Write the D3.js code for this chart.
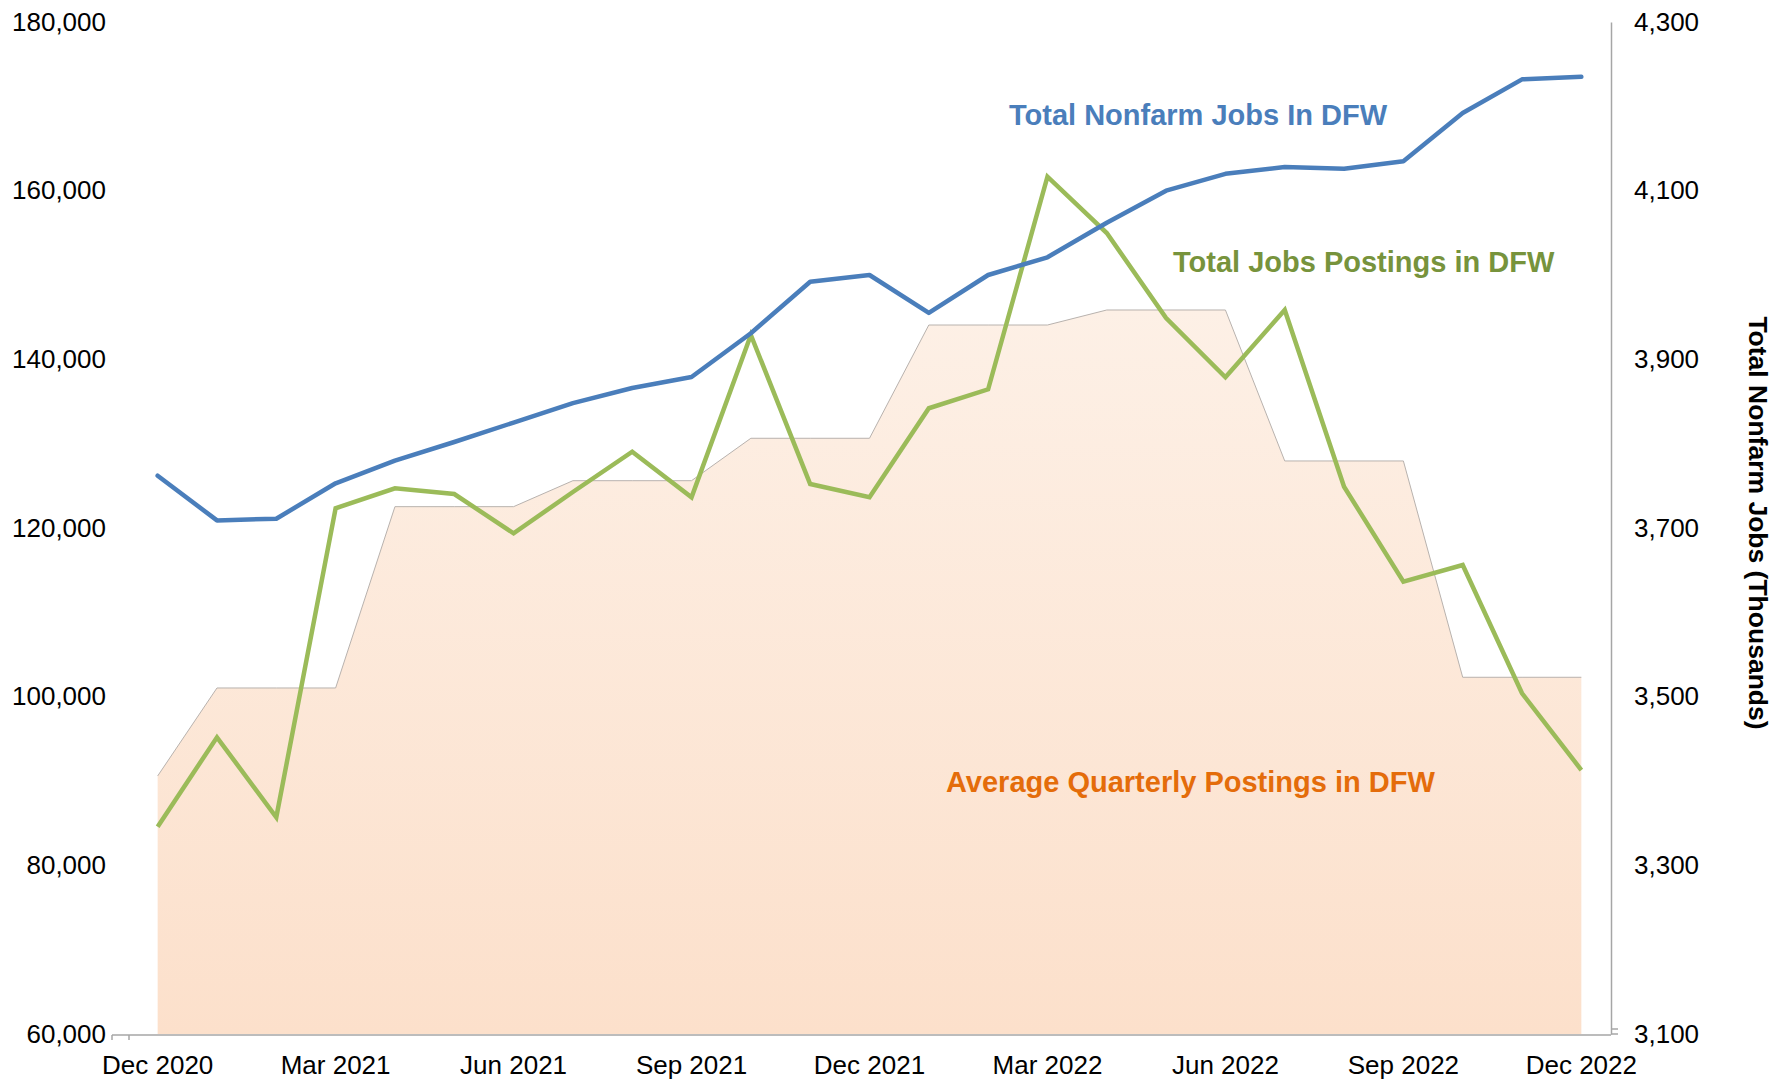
<!DOCTYPE html>
<html>
<head>
<meta charset="utf-8">
<script src="https://cdn.jsdelivr.net/npm/d3@7"></script>
<style>
  html, body { margin: 0; padding: 0; background: #ffffff; }
  svg { display: block; font-family: Arial, "Liberation Sans", sans-serif; }
</style>
</head>
<body>
<svg id="chart" width="1777" height="1081"></svg>
<script>
// ---- Data ----
const months = ["Dec 2020","Jan 2021","Feb 2021","Mar 2021","Apr 2021","May 2021","Jun 2021","Jul 2021","Aug 2021","Sep 2021","Oct 2021","Nov 2021","Dec 2021","Jan 2022","Feb 2022","Mar 2022","Apr 2022","May 2022","Jun 2022","Jul 2022","Aug 2022","Sep 2022","Oct 2022","Nov 2022","Dec 2022"];
const tickMonths = ["Dec 2020","Mar 2021","Jun 2021","Sep 2021","Dec 2021","Mar 2022","Jun 2022","Sep 2022","Dec 2022"];

// Total Nonfarm Jobs in DFW (thousands, right axis)
const nonfarmJobs = [3762, 3709, 3711, 3753, 3780, 3802, 3825, 3848, 3866, 3879, 3931, 3992, 4000, 3955, 4000, 4021, 4062, 4100, 4120, 4128, 4126, 4135, 4192, 4232, 4235];
// Total Job Postings in DFW (left axis)
const jobPostings = [84580, 95180, 85700, 122340, 124710, 124030, 119370, 124270, 129050, 123640, 142890, 125220, 123640, 134200, 136450, 161660, 154980, 144900, 137870, 145850, 124900, 113640, 115610, 100400, 91300];
// Average Quarterly Postings in DFW (left axis)
const avgQuarterly = [90600, 101030, 101030, 101030, 122530, 122530, 122530, 125610, 125610, 125610, 130640, 130640, 130640, 144070, 144070, 144070, 145850, 145850, 145850, 127950, 127950, 127950, 102300, 102300, 102300];

const leftTicks = [60000, 80000, 100000, 120000, 140000, 160000, 180000];
const rightTicks = [3100, 3300, 3500, 3700, 3900, 4100, 4300];

// ---- Layout ----
const svg = d3.select("#chart");
const plotLeft = 128, plotRight = 1611, plotTop = 22, plotBottom = 1034;

const x = d3.scaleBand().domain(months).range([plotLeft, plotRight]).paddingInner(0).paddingOuter(0);
const cx = d => x(d) + x.bandwidth() / 2;
const yL = d3.scaleLinear().domain([60000, 180000]).range([plotBottom, plotTop]);
const yR = d3.scaleLinear().domain([3100, 4300]).range([plotBottom, plotTop]);

// gradient for area
const defs = svg.append("defs");
const grad = defs.append("linearGradient").attr("id", "areaGrad")
  .attr("gradientUnits", "userSpaceOnUse")
  .attr("x1", 0).attr("y1", yL(146000)).attr("x2", 0).attr("y2", plotBottom);
grad.append("stop").attr("offset", "0%").attr("stop-color", "#fdf0e6");
grad.append("stop").attr("offset", "100%").attr("stop-color", "#fce0cb");

const areaData = months.map((m, i) => ({m, v: avgQuarterly[i]}));
svg.append("path").datum(areaData)
  .attr("fill", "url(#areaGrad)")
  .attr("d", d3.area().x(d => cx(d.m)).y0(yL(60000)).y1(d => yL(d.v)));
svg.append("path").datum(areaData)
  .attr("fill", "none").attr("stroke", "#b8b2ae").attr("stroke-width", 1)
  .attr("d", d3.line().x(d => cx(d.m)).y(d => yL(d.v)));

// Axes
const fmt = d3.format(",");
const leftAxis = svg.append("g").attr("transform", `translate(${plotLeft - 16},0)`)
  .call(d3.axisLeft(yL).tickValues(leftTicks).tickFormat(fmt).tickSize(0).tickPadding(6));
leftAxis.select(".domain").remove();

const bottomAxis = svg.append("g").attr("transform", `translate(0,${plotBottom + 1})`)
  .call(d3.axisBottom(x).tickValues(tickMonths).tickSize(0).tickSizeOuter(0).tickPadding(21));
bottomAxis.select(".domain").attr("stroke", "#a6a6a6").attr("stroke-width", 1.5)
  .attr("d", `M${plotLeft - 16},0H${plotRight}`);

const rightAxis = svg.append("g").attr("transform", `translate(${plotRight},0)`)
  .call(d3.axisRight(yR).tickValues(rightTicks).tickFormat(fmt).tickSize(0).tickSizeOuter(0).tickPadding(23));
rightAxis.select(".domain").attr("stroke", "#a6a6a6").attr("stroke-width", 1.5);

[leftAxis, bottomAxis, rightAxis].forEach(g => {
  g.selectAll("text").attr("font-size", 26).attr("fill", "#000")
    .attr("font-family", "Arial, 'Liberation Sans', sans-serif");
});

// small tick marks at the corners
svg.append("line").attr("x1", plotLeft - 16).attr("x2", plotLeft - 16)
  .attr("y1", plotBottom + 1).attr("y2", plotBottom + 6).attr("stroke", "#a6a6a6").attr("stroke-width", 1.5);
svg.append("line").attr("x1", plotLeft + 1).attr("x2", plotLeft + 1)
  .attr("y1", plotBottom + 1).attr("y2", plotBottom + 6).attr("stroke", "#a6a6a6").attr("stroke-width", 1.5);
svg.append("line").attr("x1", plotRight).attr("x2", plotRight + 7)
  .attr("y1", yR(3100)).attr("y2", yR(3100)).attr("stroke", "#a6a6a6").attr("stroke-width", 1.5);
svg.append("line").attr("x1", plotRight).attr("x2", plotRight + 7)
  .attr("y1", yR(3100) - 5).attr("y2", yR(3100) - 5).attr("stroke", "#a6a6a6").attr("stroke-width", 1.5);

// Lines
svg.append("path").datum(months.map((m, i) => ({m, v: jobPostings[i]})))
  .attr("fill", "none").attr("stroke", "#9bbb59").attr("stroke-width", 4.5)
  .attr("stroke-linejoin", "miter")
  .attr("d", d3.line().x(d => cx(d.m)).y(d => yL(d.v)));

svg.append("path").datum(months.map((m, i) => ({m, v: nonfarmJobs[i]})))
  .attr("fill", "none").attr("stroke", "#4a7ebb").attr("stroke-width", 4.5)
  .attr("stroke-linejoin", "round").attr("stroke-linecap", "round")
  .attr("d", d3.line().x(d => cx(d.m)).y(d => yR(d.v)));

// Right axis title
svg.append("text")
  .attr("transform", "translate(1758,523) rotate(90)")
  .attr("text-anchor", "middle").attr("dominant-baseline", "central")
  .attr("font-size", 26.5).attr("font-weight", "bold").attr("fill", "#000")
  .text("Total Nonfarm Jobs (Thousands)");

// Series labels
svg.append("text").attr("x", 1009).attr("y", 125)
  .attr("font-size", 29).attr("font-weight", "bold").attr("fill", "#4a7ebb")
  .text("Total Nonfarm Jobs In DFW");
svg.append("text").attr("x", 1173).attr("y", 272)
  .attr("font-size", 29).attr("font-weight", "bold").attr("fill", "#77933c")
  .text("Total Jobs Postings in DFW");
svg.append("text").attr("x", 946).attr("y", 792)
  .attr("font-size", 29).attr("font-weight", "bold").attr("fill", "#e46c0a")
  .text("Average Quarterly Postings in DFW");
</script>
</body>
</html>
